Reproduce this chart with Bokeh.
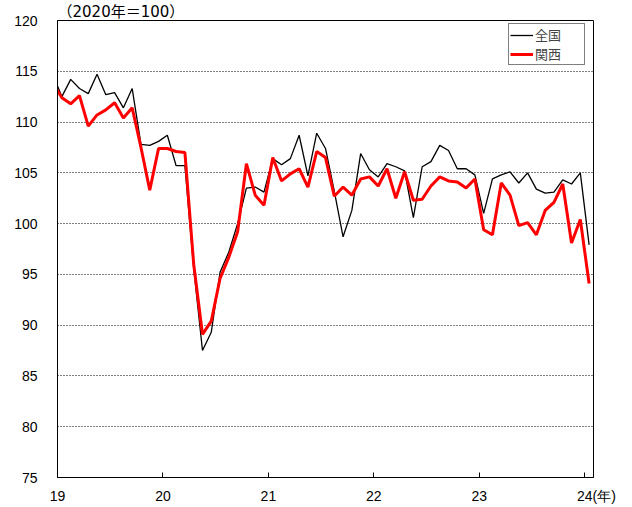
from bokeh.plotting import figure
from bokeh.models import Range1d, Legend, LegendItem, FixedTicker, ColumnDataSource
from bokeh.embed import file_html
from bokeh.resources import INLINE

# Months: Dec 2018 .. Jan 2024 (Dec 2018 is clipped at the left edge)
months = ["2018-12"] + [f"{y}-{m:02d}" for y in range(2019, 2024) for m in range(1, 13)] + ["2024-01"]

zenkoku = [114.6,
           112.5, 114.2, 113.3, 112.8, 114.7, 112.7, 112.9, 111.4, 113.3, 107.8, 107.7, 108.1,
           108.7, 105.7, 105.7, 95.6, 87.5, 89.3, 95.2, 97.2, 100.0, 103.5, 103.6, 103.1,
           106.4, 105.8, 106.4, 108.7, 104.7, 108.9, 107.4, 103.2, 98.7, 101.3, 106.9, 105.3,
           104.6, 105.9, 105.6, 105.2, 100.6, 105.6, 106.1, 107.7, 107.2, 105.4, 105.4, 104.8,
           101.0, 104.4, 104.8, 105.1, 104.0, 105.0, 103.4, 103.0, 103.1, 104.3, 103.9, 105.0,
           97.9]
kansai = [113.8,
          112.4, 111.8, 112.6, 109.6, 110.7, 111.2, 111.9, 110.4, 111.4, 107.5, 103.3, 107.4,
          107.4, 107.1, 107.0, 96.0, 89.1, 90.4, 94.6, 96.7, 99.2, 105.9, 102.8, 101.8,
          106.5, 104.2, 104.9, 105.4, 103.6, 107.1, 106.5, 102.7, 103.6, 102.8, 104.4, 104.6,
          103.7, 105.4, 102.5, 105.1, 102.3, 102.4, 103.7, 104.6, 104.2, 104.1, 103.5, 104.4,
          99.4, 98.9, 104.0, 102.8, 99.8, 100.1, 98.9, 101.3, 102.1, 103.9, 98.1, 100.4,
          94.1]

year_ticks = [0, 12, 24, 36, 48, 60]
# last label padded on the left with figure spaces so that "24" sits on its tick
year_labels = ["19", "20", "21", "22", "23", "\u2007\u2007\u200724(年)"]
y_ticks = [75, 80, 85, 90, 95, 100, 105, 110, 115, 120]
unit_text = "（2020年＝100）"


def month_pos(s):
    y, m = s.split("-")
    return (int(y) - 2019) * 12 + (int(m) - 1) + 0.5


xs = [month_pos(s) for s in months]
src = ColumnDataSource(dict(x=xs, zenkoku=zenkoku, kansai=kansai))

NUM_FONT = "Liberation Sans"
JP_FONT = "Noto Sans CJK JP"

p = figure(width=632, height=507, output_backend="svg", toolbar_location=None,
           x_range=Range1d(0, 61), y_range=Range1d(75, 120),
           min_border_left=57, min_border_right=39, min_border_top=20, min_border_bottom=30)
p.background_fill_color = "white"
p.border_fill_color = "white"
p.outline_line_color = "black"
p.outline_line_width = 1

# unit label as a left-aligned title
p.title.text = unit_text
p.title.align = "left"
p.title.text_font = "DejaVu Sans, Noto Sans CJK JP"
p.title.text_font_size = "15px"
p.title.text_font_style = "normal"
p.title.text_color = "black"
p.title.standoff = 0
p.title.offset = 0

# axes
p.xaxis.ticker = FixedTicker(ticks=year_ticks)
p.xaxis.major_label_overrides = {t: l for t, l in zip(year_ticks, year_labels)}
p.xaxis.major_tick_in = 5
p.xaxis.major_tick_out = 0
p.xaxis.minor_tick_in = 0
p.xaxis.minor_tick_out = 0
p.xaxis.major_label_standoff = 10
p.xaxis.axis_line_color = "black"
p.xaxis.major_tick_line_color = "black"

p.yaxis.ticker = FixedTicker(ticks=y_ticks)
p.yaxis.major_tick_in = 0
p.yaxis.major_tick_out = 0
p.yaxis.minor_tick_in = 0
p.yaxis.minor_tick_out = 0
p.yaxis.major_label_standoff = 20
p.yaxis.axis_line_color = "black"

for ax in (p.xaxis, p.yaxis):
    ax.major_label_text_font = NUM_FONT
    ax.major_label_text_font_size = "14px"
    ax.major_label_text_color = "black"

p.xgrid.grid_line_color = None
p.ygrid.ticker = FixedTicker(ticks=[80, 85, 90, 95, 100, 105, 110, 115])
p.ygrid.grid_line_color = "black"
p.ygrid.grid_line_dash = "1 2"
p.ygrid.grid_line_width = 1

r1 = p.line("x", "zenkoku", source=src, line_color="black", line_width=1.3)
r2 = p.line("x", "kansai", source=src, line_color="#ff0000", line_width=3)

legend = Legend(items=[LegendItem(label="全国", renderers=[r1]),
                       LegendItem(label="関西", renderers=[r2])],
                location=(451, 412))
legend.label_text_font = JP_FONT
legend.label_text_font_size = "13px"
legend.label_height = 14
legend.glyph_height = 14
legend.glyph_width = 23
legend.label_standoff = 2
legend.label_width = 48
legend.padding = 1
legend.spacing = 0
legend.margin = 0
legend.border_line_color = "black"
legend.border_line_width = 1
legend.background_fill_color = "white"
legend.background_fill_alpha = 1
p.add_layout(legend)

open("out.html", "w").write(file_html(p, INLINE))
